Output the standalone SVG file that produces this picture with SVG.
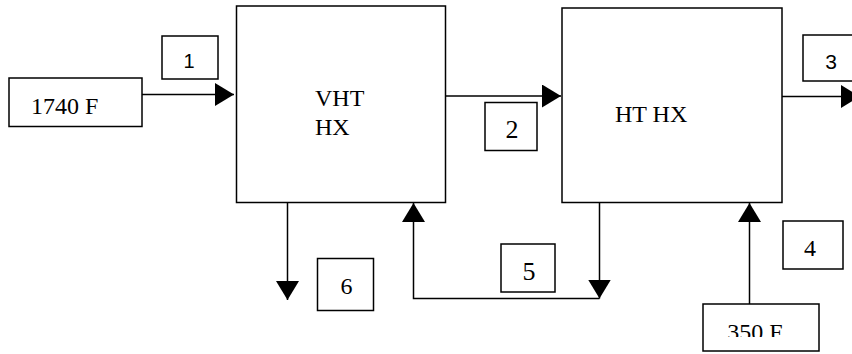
<svg xmlns="http://www.w3.org/2000/svg" width="852" height="354" viewBox="0 0 852 354">
<style>
.box{fill:#fff;stroke:#000;stroke-width:1.5}
.ln{fill:none;stroke:#000;stroke-width:1.5}
.t{font-family:"Liberation Serif","Times New Roman",serif;font-size:24px;fill:#000}
.s{font-family:"Liberation Sans",Arial,sans-serif;font-size:20px;fill:#000}
</style>
<defs>
<marker id="ah" markerUnits="userSpaceOnUse" markerWidth="20" markerHeight="24" refX="19" refY="11.5" orient="auto">
<path d="M0,0 L19,11.5 L0,23 Z" fill="#000"/>
</marker>
<clipPath id="clip350"><rect x="703" y="304" width="116" height="33"/></clipPath>
</defs>
<g id="connectors">
<line class="ln" x1="142" y1="94.5" x2="234" y2="94.5" marker-end="url(#ah)"/>
<line class="ln" x1="446" y1="96" x2="561" y2="96" marker-end="url(#ah)"/>
<line class="ln" x1="782" y1="96.5" x2="860" y2="96.5" marker-end="url(#ah)"/>
<line class="ln" x1="287.5" y1="202" x2="287.5" y2="300" marker-end="url(#ah)"/>
<line class="ln" x1="599.5" y1="202" x2="599.5" y2="298.5" marker-end="url(#ah)"/>
<polyline class="ln" points="599.5,298.5 413.5,298.5 413.5,203" marker-end="url(#ah)"/>
<line class="ln" x1="749.5" y1="304" x2="749.5" y2="203" marker-end="url(#ah)"/>
</g>
<g id="vht">
<rect class="box" x="236.5" y="6" width="209" height="196.5"/>
<text class="t" x="315" y="106">VHT</text>
<text class="t" x="315" y="135">HX</text>
</g>
<g id="ht">
<rect class="box" x="562" y="8" width="220" height="194.5"/>
<text class="t" x="615" y="122">HT HX</text>
</g>
<g id="in1740">
<rect class="box" x="9" y="78" width="133" height="48.5"/>
<text class="t" x="31" y="114">1740 F</text>
</g>
<g id="in350">
<rect class="box" x="703" y="304" width="116" height="47"/>
<text class="t" x="755" y="339.5" text-anchor="middle" clip-path="url(#clip350)">350 F</text>
</g>
<g id="lbl1">
<rect class="box" x="162" y="36" width="56" height="43"/>
<text class="s" x="189" y="68" text-anchor="middle">1</text>
</g>
<g id="lbl2">
<rect class="box" x="485" y="102.5" width="52" height="48"/>
<text class="t" x="512" y="138" text-anchor="middle" style="font-size:26px">2</text>
</g>
<g id="lbl3">
<rect class="box" x="803" y="35" width="60" height="46"/>
<text class="s" x="831" y="68.5" text-anchor="middle" style="font-size:21px">3</text>
</g>
<g id="lbl4">
<rect class="box" x="783" y="221" width="60" height="48"/>
<text class="t" x="810" y="256" text-anchor="middle">4</text>
</g>
<g id="lbl5">
<rect class="box" x="501" y="244" width="54" height="48"/>
<text class="t" x="529" y="280" text-anchor="middle" style="font-size:26px">5</text>
</g>
<g id="lbl6">
<rect class="box" x="317.5" y="258.5" width="56" height="52"/>
<text class="t" x="346.5" y="294" text-anchor="middle">6</text>
</g>
</svg>
